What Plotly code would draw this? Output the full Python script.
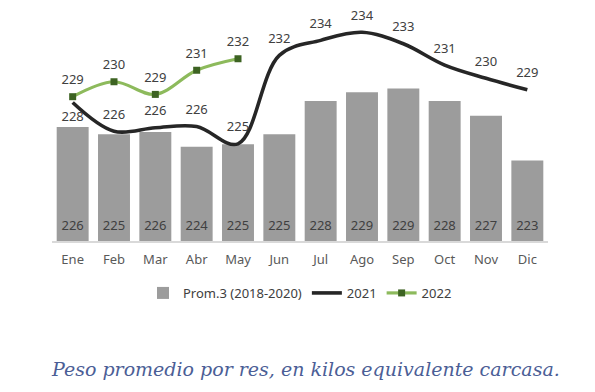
import plotly.graph_objects as go

months = ["Ene", "Feb", "Mar", "Abr", "May", "Jun", "Jul", "Ago", "Sep", "Oct", "Nov", "Dic"]
prom_2018_2020 = [226.0, 225.4, 225.6, 224.4, 224.6, 225.4, 228.1, 228.8, 229.1, 228.1, 226.9, 223.3]
y2021 = [228.2, 225.7, 226.0, 226.1, 224.6, 232.3, 233.6, 234.3, 233.3, 231.45, 230.3, 229.3]
months_2022 = ["Ene", "Feb", "Mar", "Abr", "May"]
y2022 = [228.7, 230.0, 228.9, 231.0, 232.0]

BAR_AXIS_MIN = 216.8
label_color = "#404040"
font_main = "Noto Sans"
clear = "rgba(0,0,0,0)"

fig = go.Figure()

fig.add_trace(go.Bar(
    x=months, y=prom_2018_2020, name="Prom.3 (2018-2020)",
    marker=dict(color="#9c9c9c", line=dict(width=0)),
    hoverinfo="x+y",
))

# value labels at the foot of each bar
fig.add_trace(go.Scatter(
    x=months, y=[BAR_AXIS_MIN] * len(months),
    text=[f"{v:.0f}" for v in prom_2018_2020],
    mode="markers+text", textposition="top center",
    marker=dict(size=11, color=clear),
    textfont=dict(family=font_main, size=13, color=label_color),
    showlegend=False, hoverinfo="skip", cliponaxis=False,
))

pos2021 = ["bottom center"] + ["top center"] * (len(months) - 1)
fig.add_trace(go.Scatter(
    x=months, y=y2021, name="2021", yaxis="y2",
    mode="lines+markers+text", line=dict(color="#262626", width=3.6, shape="spline", smoothing=1.0),
    marker=dict(size=13, color=clear),
    texttemplate="%{y:.0f}", textposition=pos2021,
    textfont=dict(family=font_main, size=13, color=label_color),
    cliponaxis=False,
))

fig.add_trace(go.Scatter(
    x=months_2022, y=y2022, name="2022", yaxis="y2",
    mode="lines+markers", line=dict(color="#8dba5c", width=3.2, shape="spline", smoothing=1.0),
    marker=dict(symbol="square", size=7, color="#3d6322"),
    cliponaxis=False,
))
fig.add_trace(go.Scatter(
    x=months_2022, y=y2022, yaxis="y2",
    mode="markers+text", marker=dict(size=13, color=clear),
    texttemplate="%{y:.0f}", textposition="top center",
    textfont=dict(family=font_main, size=13, color=label_color),
    showlegend=False, hoverinfo="skip", cliponaxis=False,
))

fig.update_layout(
    width=595, height=392,
    margin=dict(l=52, r=47, t=10, b=151, autoexpand=False),
    paper_bgcolor="white", plot_bgcolor="white",
    bargap=0.227,
    showlegend=True,
    legend=dict(orientation="h", x=0.5, xanchor="center", y=-0.225, yanchor="middle",
                font=dict(family=font_main, size=13, color=label_color),
                itemwidth=30, tracegroupgap=0),
    xaxis=dict(type="category", categoryorder="array", categoryarray=months,
               range=[-0.5, len(months) - 0.5],
               showgrid=False, showline=True, linecolor="#d9d9d9", linewidth=1.5,
               ticks="", tickfont=dict(family=font_main, size=13, color="#595959"),
               ticklabelstandoff=6, automargin=False),
    yaxis=dict(range=[BAR_AXIS_MIN, 235.43], visible=False, showgrid=False, automargin=False),
    yaxis2=dict(range=[216.15, 236.24], overlaying="y", visible=False, showgrid=False, automargin=False),
    annotations=[dict(
        text="<i>Peso promedio por res, en kilos equivalente carcasa.</i>",
        x=0.511, xref="paper", y=-0.554, yref="paper", yanchor="middle", xanchor="center",
        showarrow=False, font=dict(family="DejaVu Serif", size=19, color="#4b5e96"),
    )],
)

fig.write_html("out.html", config={"displayModeBar": False},
               post_script="document.body.style.margin='0';")
